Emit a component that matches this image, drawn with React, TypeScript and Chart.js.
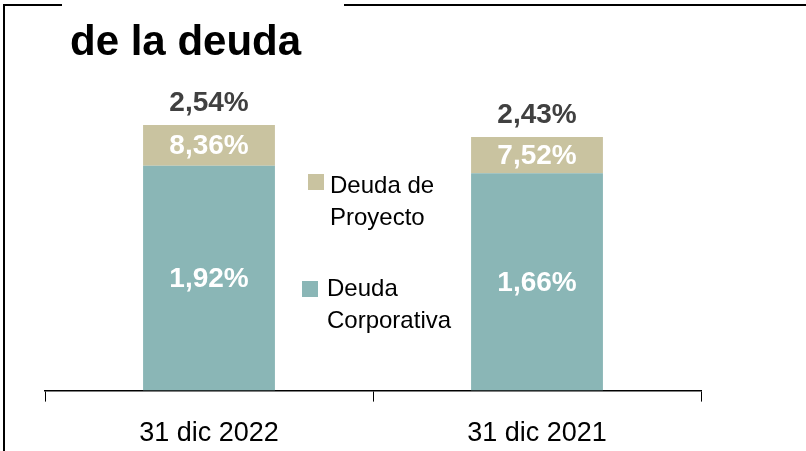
import React, { useEffect, useRef } from "react";
import { Chart, registerables } from "chart.js";

Chart.register(...registerables);

// ---- data ----
const categories = ["31 dic 2022", "31 dic 2021"];
const seriesNames = ["Deuda Corporativa", "Deuda de Proyecto"];
// relative size of each debt block (bar segment heights)
const corporateDebt = [224.5, 217];
const projectDebt = [40.5, 36];
// cost labels shown on the segments
const corporateRate = ["1,92%", "1,66%"];
const projectRate = ["8,36%", "7,52%"];
const totalRate = ["2,54%", "2,43%"];
const titleText = "de la deuda";
const legendLines = [["Deuda", "Corporativa"], ["Deuda de", "Proyecto"]];

const TEAL = "#8AB6B6";
const TAN = "#C9C3A0";
const FONT = "'Liberation Sans', Arial, sans-serif";

const decorPlugin = {
  id: "decor",
  afterDraw(chart: any) {
    const ctx = chart.ctx as CanvasRenderingContext2D;
    ctx.save();
    // frame lines
    ctx.strokeStyle = "#000";
    ctx.lineWidth = 2;
    ctx.beginPath();
    ctx.moveTo(4, 451);
    ctx.lineTo(4, 5);
    ctx.lineTo(62, 5);
    ctx.moveTo(344, 5);
    ctx.lineTo(806, 5);
    ctx.stroke();

    // title
    ctx.fillStyle = "#000";
    ctx.font = `bold 42px ${FONT}`;
    ctx.textAlign = "left";
    ctx.textBaseline = "alphabetic";
    ctx.fillText(titleText, 70, 55);

    // data labels
    const corpMeta = chart.getDatasetMeta(0);
    const projMeta = chart.getDatasetMeta(1);
    ctx.textAlign = "center";
    ctx.font = `bold 28px ${FONT}`;
    corpMeta.data.forEach((el: any, i: number) => {
      ctx.fillStyle = "#fff";
      ctx.textBaseline = "middle";
      ctx.fillText(corporateRate[i], el.x, (el.y + el.base) / 2 + 1);
    });
    projMeta.data.forEach((el: any, i: number) => {
      ctx.fillStyle = "#fff";
      ctx.textBaseline = "middle";
      ctx.fillText(projectRate[i], el.x, (el.y + el.base) / 2 + 1);
      ctx.fillStyle = "#404040";
      ctx.textBaseline = "alphabetic";
      ctx.fillText(totalRate[i], el.x, el.y - 14);
    });

    // legend
    ctx.textAlign = "left";
    ctx.textBaseline = "alphabetic";
    ctx.font = `24px ${FONT}`;
    ctx.fillStyle = TAN;
    ctx.fillRect(308, 174, 16, 16);
    ctx.fillStyle = "#000";
    ctx.fillText(legendLines[1][0], 330, 193);
    ctx.fillText(legendLines[1][1], 330, 225);
    ctx.fillStyle = TEAL;
    ctx.fillRect(302, 281, 16, 16);
    ctx.fillStyle = "#000";
    ctx.fillText(legendLines[0][0], 327, 296);
    ctx.fillText(legendLines[0][1], 327, 328);
    ctx.restore();
  },
};

export default function App() {
  const ref = useRef<HTMLCanvasElement>(null);
  useEffect(() => {
    document.body.style.margin = "0";
    const chart = new Chart(ref.current!, {
      type: "bar",
      data: {
        labels: categories,
        datasets: [
          {
            label: seriesNames[0],
            data: corporateDebt,
            backgroundColor: TEAL,
            barPercentage: 0.402,
            categoryPercentage: 1,
          },
          {
            label: seriesNames[1],
            data: projectDebt,
            backgroundColor: TAN,
            barPercentage: 0.402,
            categoryPercentage: 1,
          },
        ],
      },
      options: {
        animation: false,
        responsive: false,
        devicePixelRatio: 1,
        layout: { padding: { left: 45, right: 105, top: 90, bottom: -15 } },
        plugins: {
          legend: { display: false },
          tooltip: { enabled: false },
          title: { display: false },
        },
        scales: {
          x: {
            stacked: true,
            grid: {
              display: true,
              drawOnChartArea: false,
              drawTicks: true,
              tickLength: 11,
              color: "#000",
              offset: true,
            },
            border: { display: true, color: "#000", width: 1.5 },
            ticks: {
              color: "#000",
              padding: 16,
              font: { family: FONT, size: 27 },
            },
          },
          y: {
            stacked: true,
            display: false,
            min: 0,
            max: 300,
          },
        },
      },
      plugins: [decorPlugin],
    });
    return () => chart.destroy();
  }, []);
  return <canvas ref={ref} width={806} height={451} style={{ display: "block" }} />;
}
